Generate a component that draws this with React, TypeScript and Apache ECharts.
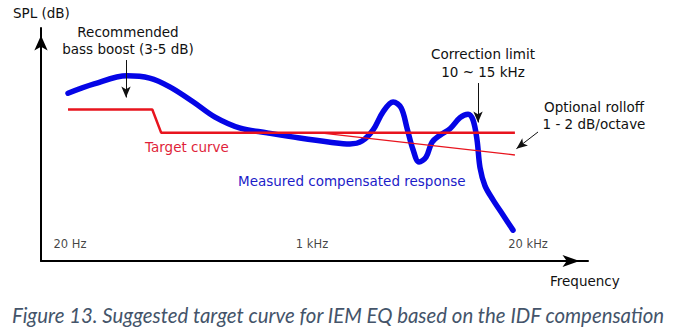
import React, { useEffect, useRef } from 'react';
import * as echarts from 'echarts';

// Measured compensated response (frequency in Hz, level in dB relative to target)
const measuredFreq = [20, 30, 50, 71, 97, 140, 196, 290, 440, 730, 1170, 1590, 1920, 2280, 2660, 3110, 3520, 3860, 4240, 4650, 5180, 5690, 6440, 7520, 8790, 9950, 10750, 11440, 11990, 12950, 14670, 17130, 20000];
const measuredDb = [6.8, 8.4, 9.8, 9.4, 7.9, 5.3, 2.7, 0.8, 0.0, -0.9, -1.6, -1.9, -1.4, 0.5, 3.6, 5.3, 4.3, 0.8, -2.9, -5.0, -4.2, -1.6, -0.4, 0.7, 2.6, 3.2, 2.2, -1.2, -6.0, -9.1, -11.5, -14.1, -16.7];

// Target curve with bass shelf
const targetFreq = [20, 74, 85, 20600];
const targetDb = [4, 4, 0, 0];

// Optional rolloff
const rolloffFreq = [1000, 20600];
const rolloffDb = [0, -3.8];

// Frequency tick labels
const tickFreqs = [20, 1000, 20000];
const tickLabels = ['20 Hz', '1 kHz', '20 kHz'];
const tickLabelDb = -19.1;

// Annotation arrows [fromFreq, fromDb, toFreq, toDb]
const bassArrow = [49.2, 12.5, 49.2, 6.07];
const correctionArrow = [11620, 8.55, 11620, 1.78];
const rolloffArrow = [29490, 0.15, 21090, -2.71];

const FONT = 'DejaVu Sans';

export default function App() {
  const ref = useRef<HTMLDivElement>(null);
  useEffect(() => {
    document.body.style.margin = '0';
    const chart = echarts.init(ref.current!, null, { renderer: 'svg' });
    const zip = (a: number[], b: number[]) => a.map((v, i) => [v, b[i]]);
    const arrow = (a: number[]) => [{ coord: [a[0], a[1]] }, { coord: [a[2], a[3]] }];
    const tickOffsets = [2, -8, 15];
    const txt = (text: string, x: number, y: number, opts: any = {}) => ({
      type: 'text',
      x,
      y,
      silent: true,
      style: {
        text,
        fontFamily: FONT,
        fontSize: 13.5,
        fill: '#111',
        align: 'center',
        verticalAlign: 'middle',
        ...opts,
      },
    });
    const option: any = {
      animation: false,
      backgroundColor: '#fff',
      grid: { left: 41, right: 85, top: 28, bottom: 69, containLabel: false, outerBoundsMode: 'none' },
      xAxis: {
        type: 'log',
        logBase: 10,
        min: 13.15,
        max: 64060,
        axisLine: {
          show: true,
          onZero: false,
          lineStyle: { color: '#000', width: 2 },
          symbol: ['none', 'arrow'],
          symbolSize: [9, 17],
          symbolOffset: [0, -8.5],
        },
        axisTick: { show: false },
        axisLabel: { show: false },
        splitLine: { show: false },
      },
      yAxis: {
        type: 'value',
        min: -22,
        max: 18,
        axisLine: {
          show: true,
          onZero: false,
          lineStyle: { color: '#000', width: 2 },
          symbol: ['none', 'arrow'],
          symbolSize: [10, 15],
          symbolOffset: [0, -7.5],
        },
        axisTick: { show: false },
        axisLabel: { show: false },
        splitLine: { show: false },
      },
      series: [
        {
          type: 'line',
          data: zip(measuredFreq, measuredDb),
          smooth: 0.35,
          showSymbol: false,
          silent: true,
          lineStyle: { color: '#0505e6', width: 5.5, cap: 'round', join: 'round' },
        },
        {
          type: 'line',
          data: zip(rolloffFreq, rolloffDb),
          showSymbol: false,
          silent: true,
          lineStyle: { color: '#e8141e', width: 1.3 },
        },
        {
          type: 'line',
          data: zip(targetFreq, targetDb),
          showSymbol: false,
          silent: true,
          lineStyle: { color: '#e8141e', width: 2.5 },
          markLine: {
            silent: true,
            symbol: ['none', 'arrow'],
            symbolSize: [7, 11],
            label: { show: false },
            emphasis: { disabled: true },
            lineStyle: { type: 'solid', color: '#111', width: 1 },
            data: [arrow(bassArrow), arrow(correctionArrow), arrow(rolloffArrow)],
          },
        },
        {
          type: 'scatter',
          symbolSize: 0,
          silent: true,
          data: tickFreqs.map((f, i) => ({ value: [f, tickLabelDb], label: { offset: [tickOffsets[i], 0] } })),
          label: {
            show: true,
            position: 'inside',
            formatter: (p: any) => tickLabels[p.dataIndex],
            color: '#111',
            fontSize: 11.5,
            fontFamily: FONT,
          },
        },
      ],
      graphic: [
        txt('SPL (dB)', 13, 13, { align: 'left' }),
        txt('Recommended', 128, 32),
        txt('bass boost (3-5 dB)', 128, 49),
        txt('Target curve', 145, 147, { align: 'left', fill: '#e01f3a' }),
        txt('Measured compensated response', 238, 181, { align: 'left', fill: '#1c1cc8' }),
        txt('Correction limit', 483, 54),
        txt('10 ~ 15 kHz', 483, 72),
        txt('Optional rolloff', 594, 107),
        txt('1 - 2 dB/octave', 594, 124),
        txt('Frequency', 550, 281, { align: 'left' }),
        txt('Figure 13. Suggested target curve for IEM EQ based on the IDF compensation', 12, 315, {
          align: 'left',
          fontFamily: 'Lato',
          fontStyle: 'italic',
          fontSize: 20.4,
          fill: '#44546a',
        }),
      ],
    };
    chart.setOption(option);
    return () => chart.dispose();
  }, []);
  return <div ref={ref} style={{ position: 'fixed', left: 0, top: 0, width: 673, height: 330 }} />;
}
